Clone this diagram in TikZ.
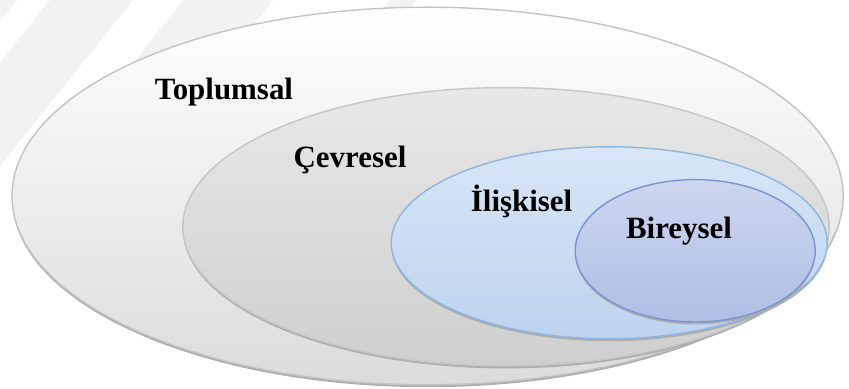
\documentclass[tikz,border=0pt]{standalone}
\usepackage{fontspec}
\setmainfont{Liberation Serif}
\usepackage{tikz}
\usetikzlibrary{arrows}
\usetikzlibrary{shapes}

\definecolor{markgray}{HTML}{F2F2F2}
\definecolor{outerline}{HTML}{C3C3C3}
\definecolor{middleline}{HTML}{C6C6C6}
\definecolor{relfillA}{HTML}{D8E6F6}
\definecolor{relfillB}{HTML}{BDD3EE}
\definecolor{relline}{HTML}{8FB5E0}
\definecolor{indfillA}{HTML}{CDD6F0}
\definecolor{indfillB}{HTML}{AFBEE4}
\definecolor{indline}{HTML}{7C93CF}

\begin{document}
\begin{tikzpicture}
	\tikzstyle{every node}=[font=\fontsize{22}{26}\selectfont\bfseries, anchor=base]
	\tikzstyle{ringshadow}=[fill=black!32]
	\tikzstyle{ringline}=[line width=1pt]
	\useasboundingbox (0,0) rectangle (21.225,9.7);

	\fill[markgray] (0,9.7) -- (0.425,9.7) -- (0,9.175) -- cycle;
	\fill[markgray] (1.25,9.7) -- (3.325,9.7) -- (0,5.55) -- (0,8.125) -- cycle;
	\fill[markgray] (4.575,9.7) -- (6.825,9.7) -- (3.9,6.0) -- (1.65,6.0) -- cycle;
	\fill[markgray] (9.75,9.7) -- (10.425,9.7) -- (9.875,9.0) -- (9.2,9.0) -- cycle;

	\fill[ringshadow] (10.69,4.74) ellipse [x radius=10.39cm, y radius=4.72cm];
	\shadedraw[ringline, draw=outerline, top color=white, bottom color=black!14] (10.69,4.8) ellipse [x radius=10.39cm, y radius=4.72cm];

	\fill[ringshadow] (12.65,3.97) ellipse [x radius=8.08cm, y radius=3.48cm];
	\shadedraw[ringline, draw=middleline, top color=black!9, bottom color=black!19] (12.65,4.03) ellipse [x radius=8.08cm, y radius=3.48cm];

	\fill[ringshadow] (15.23,3.57) ellipse [x radius=5.45cm, y radius=2.4cm];
	\shadedraw[ringline, draw=relline, top color=relfillA, bottom color=relfillB] (15.23,3.63) ellipse [x radius=5.45cm, y radius=2.4cm];

	\fill[ringshadow] (17.38,3.37) ellipse [x radius=3.0cm, y radius=1.78cm];
	\shadedraw[ringline, draw=indline, top color=indfillA, bottom color=indfillB] (17.38,3.43) ellipse [x radius=3.0cm, y radius=1.78cm];

	\node (toplumsal) at (5.6,7.2) {Toplumsal};
	\node (cevresel) at (8.75,5.5) {Çevresel};
	\node (iliskisel) at (13.04,4.4) {İlişkisel};
	\node (bireysel) at (16.975,3.725) {Bireysel};
\end{tikzpicture}
\end{document}
